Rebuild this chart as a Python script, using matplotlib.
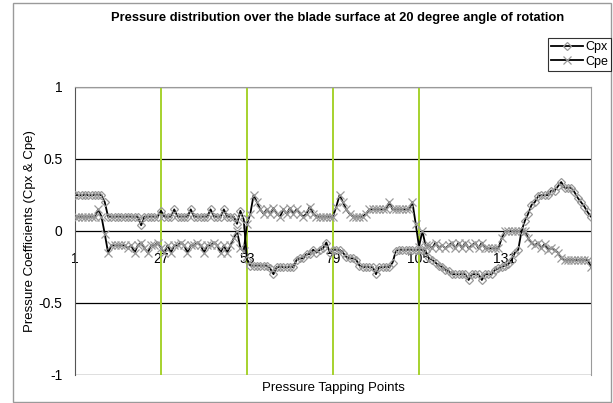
import matplotlib
matplotlib.use("Agg")
import matplotlib.pyplot as plt
from matplotlib.patches import Rectangle

# pressure tapping points 1..157
points = list(range(1, 158))

cpx = [
    0.25, 0.25, 0.25, 0.25, 0.25, 0.25, 0.25, 0.25, 0.25, 0.20,
    0.10, 0.10, 0.10, 0.10, 0.10, 0.10, 0.10, 0.10, 0.10, 0.10,
    0.04, 0.10, 0.10, 0.10, 0.10, 0.10, 0.14, 0.10, 0.10, 0.10,
    0.15, 0.10, 0.10, 0.10, 0.10, 0.15, 0.10, 0.10, 0.10, 0.10,
    0.10, 0.15, 0.10, 0.10, 0.10, 0.15, 0.10, 0.10, 0.10, 0.05,
    0.14, 0.08, -0.20, -0.24, -0.24, -0.24, -0.24, -0.24, -0.24, -0.26,
    -0.30, -0.25, -0.25, -0.25, -0.25, -0.25, -0.25, -0.20, -0.19, -0.19,
    -0.16, -0.16, -0.13, -0.15, -0.13, -0.12, -0.08, -0.15, -0.13, -0.13,
    -0.13, -0.15, -0.18, -0.19, -0.19, -0.20, -0.24, -0.25, -0.25, -0.25,
    -0.25, -0.30, -0.25, -0.25, -0.25, -0.25, -0.22, -0.14, -0.13, -0.13,
    -0.13, -0.13, -0.13, -0.13, -0.13, -0.13, -0.14, -0.19, -0.20, -0.22,
    -0.24, -0.25, -0.27, -0.28, -0.30, -0.30, -0.30, -0.30, -0.30, -0.34,
    -0.30, -0.30, -0.30, -0.34, -0.30, -0.30, -0.30, -0.27, -0.26, -0.25,
    -0.24, -0.23, -0.20, -0.15, -0.13, 0.00, 0.07, 0.12, 0.18, 0.20,
    0.24, 0.25, 0.25, 0.25, 0.28, 0.28, 0.31, 0.34, 0.30, 0.30,
    0.30, 0.27, 0.23, 0.20, 0.17, 0.13, 0.10,
]

cpe = [
    0.10, 0.10, 0.10, 0.10, 0.10, 0.10, 0.10, 0.15, 0.10, -0.02,
    -0.15, -0.10, -0.10, -0.10, -0.10, -0.10, -0.12, -0.10, -0.15, -0.10,
    -0.08, -0.12, -0.15, -0.10, -0.10, -0.08, -0.12, -0.15, -0.10, -0.15,
    -0.10, -0.10, -0.08, -0.10, -0.15, -0.10, -0.10, -0.08, -0.10, -0.15,
    -0.10, -0.10, -0.08, -0.10, -0.15, -0.10, -0.15, -0.10, -0.05, 0.00,
    -0.12, -0.14, 0.05, 0.12, 0.25, 0.20, 0.15, 0.12, 0.15, 0.12,
    0.16, 0.12, 0.10, 0.15, 0.12, 0.16, 0.12, 0.15, 0.12, 0.10,
    0.12, 0.17, 0.12, 0.10, 0.10, 0.10, 0.10, 0.10, 0.10, 0.17,
    0.25, 0.20, 0.15, 0.12, 0.10, 0.10, 0.10, 0.10, 0.12, 0.15,
    0.15, 0.15, 0.15, 0.15, 0.15, 0.20, 0.15, 0.15, 0.15, 0.15,
    0.15, 0.15, 0.20, 0.05, -0.11, 0.00, -0.10, -0.10, -0.12, -0.08,
    -0.12, -0.10, -0.12, -0.10, -0.08, -0.12, -0.08, -0.12, -0.08, -0.12,
    -0.10, -0.08, -0.12, -0.08, -0.12, -0.12, -0.12, -0.12, -0.12, -0.05,
    0.00, 0.00, 0.00, 0.00, 0.00, 0.00, 0.00, -0.05, -0.08, -0.10,
    -0.08, -0.12, -0.09, -0.13, -0.12, -0.13, -0.15, -0.19, -0.20, -0.20,
    -0.20, -0.20, -0.20, -0.20, -0.20, -0.20, -0.25,
]

tick_points = [1, 27, 53, 79, 105, 131]
section_points = [27, 53, 79, 105]
y_ticks = [-1, -0.5, 0, 0.5, 1]
y_tick_labels = ["-1", "-0.5", "0", "0.5", "1"]

plt.rcParams["font.family"] = ["Liberation Sans", "DejaVu Sans"]

fig = plt.figure(figsize=(6.13, 4.03), dpi=100)
ax = fig.add_axes([75 / 613, 1 - 375 / 403, (591 - 75) / 613, (375 - 87) / 403])

# outer chart frame
fig.patches.append(Rectangle((13 / 613, 0.002), (611 - 13) / 613, 0.99,
                             transform=fig.transFigure, fill=False,
                             edgecolor="#9a9a9a", linewidth=1.0))

for y in y_ticks:
    ax.axhline(y, color="black", linewidth=0.9, zorder=1)
for p in section_points:
    ax.axvline(p, color="#a6d22e", linewidth=1.4, zorder=2)

ax.plot(points, cpx, color="black", linewidth=1.3, marker="D", markersize=4.2,
        markerfacecolor="none", markeredgecolor="#999999", markeredgewidth=0.9,
        label="Cpx", zorder=4)
ax.plot(points, cpe, color="black", linewidth=1.3, marker="x", markersize=5.5,
        markeredgecolor="#999999", markeredgewidth=0.9, label="Cpe", zorder=3)

ax.set_xlim(1, 157)
ax.set_ylim(-1, 1)
ax.set_yticks(y_ticks)
ax.set_yticklabels(y_tick_labels, fontsize=10)
ax.tick_params(axis="y", length=0, pad=9)

# category axis crosses at zero
ax.spines["bottom"].set_position(("data", 0))
ax.spines["bottom"].set_visible(False)
ax.set_xticks(tick_points)
ax.set_xticklabels([str(t) for t in tick_points], fontsize=10)
ax.tick_params(axis="x", length=0, pad=15)
for s in ["top", "right"]:
    ax.spines[s].set_color("#9a9a9a")
ax.spines["left"].set_color("#555555")

fig.text(338 / 613, 1 - 18 / 403,
         "Pressure distribution over the blade surface at 20 degree angle of rotation",
         ha="center", va="center", fontsize=9.3, fontweight="bold")
fig.text(333 / 613, 1 - 388 / 403, "Pressure Tapping Points", ha="center", va="center",
         fontsize=9.5)
fig.text(30 / 613, 1 - 231 / 403, "Pressure Coefficients (Cpx & Cpe)", rotation=90,
         ha="center", va="center", fontsize=9.5)

leg = fig.legend(loc="upper right", bbox_to_anchor=(611 / 613, 1 - 38 / 403),
                 fontsize=9, frameon=True, fancybox=False, handlelength=2.5,
                 borderpad=0.25, labelspacing=0.2, handletextpad=0.2,
                 borderaxespad=0)
leg.get_frame().set_edgecolor("black")
leg.get_frame().set_linewidth(0.8)

fig.savefig("out.png", dpi=100)
